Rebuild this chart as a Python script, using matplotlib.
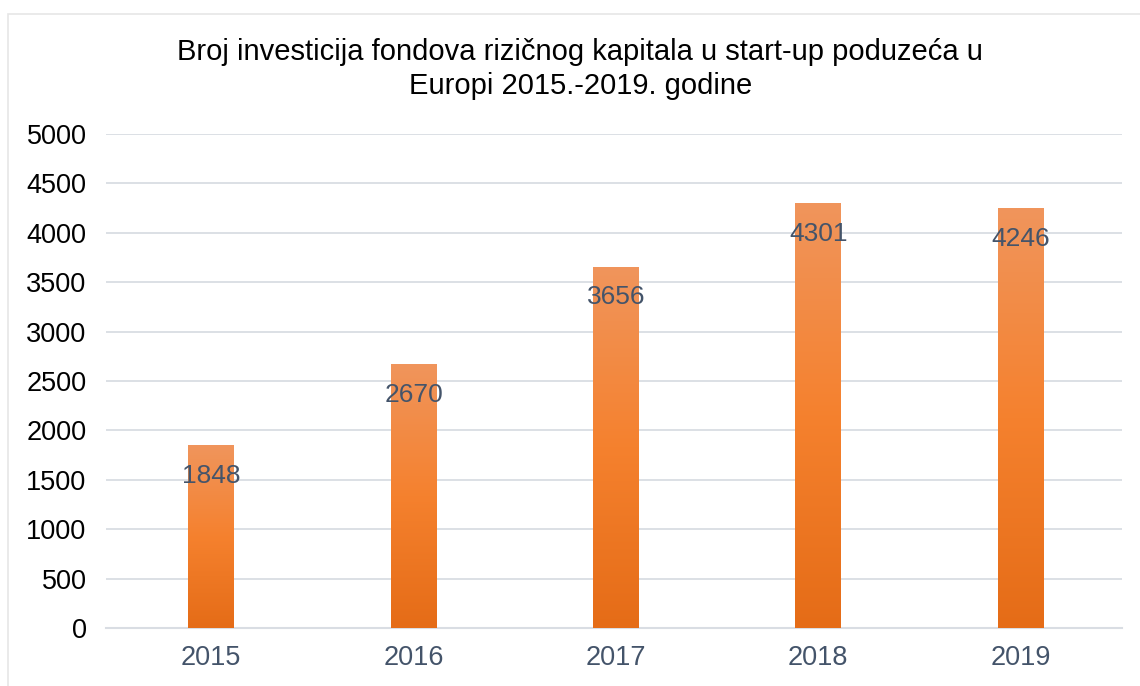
import numpy as np
import matplotlib.pyplot as plt
from matplotlib.colors import LinearSegmentedColormap
from matplotlib.patches import Rectangle

plt.rcParams['font.family'] = ['Liberation Sans', 'DejaVu Sans']

years = ["2015", "2016", "2017", "2018", "2019"]
investments = [1848, 2670, 3656, 4301, 4246]

fig = plt.figure(figsize=(11.4, 6.86), dpi=100)
ax = fig.add_axes([0.093, 0.0845, 0.891, 0.7202])

# faint outer border of the chart area
fig.patches.append(Rectangle((0.007, -0.01), 1.0, 0.99, transform=fig.transFigure,
                             fill=False, edgecolor="#E6E6E6", linewidth=1.2))

x = np.arange(len(years))
bars = ax.bar(x, investments, width=0.227, color="none", zorder=3)

# vertical orange gradient inside each bar
cmap = LinearSegmentedColormap.from_list("og", ["#E56C17", "#F5812E", "#F0955C"])
grad = np.linspace(0, 1, 256).reshape(-1, 1)
for b in bars:
    x0, y0 = b.get_x(), b.get_y()
    im = ax.imshow(grad, cmap=cmap, origin="lower", aspect="auto",
                   extent=[x0, x0 + b.get_width(), y0, y0 + b.get_height()], zorder=3)
    im.set_clip_path(b)

for xi, v in zip(x, investments):
    ax.annotate(str(v), (xi, v), xytext=(0, -22), textcoords="offset points",
                ha="center", va="center", fontsize=19, color="#44546A", zorder=5)

ax.set_xlim(-0.52, 4.5)
ax.set_ylim(0, 5000)
ax.set_yticks(range(0, 5001, 500))
ax.set_xticks(x)
ax.set_xticklabels(years)
ax.grid(axis="y", color="#D9DDE3", linewidth=1.3, zorder=0)
for s in ["top", "right", "left"]:
    ax.spines[s].set_visible(False)
ax.spines["bottom"].set_color("#D9DDE3")
ax.spines["bottom"].set_linewidth(1.5)
ax.tick_params(axis="both", length=0)
ax.tick_params(axis="y", labelsize=19.5, labelcolor="black", pad=14)
ax.tick_params(axis="x", labelsize=19.5, labelcolor="#44546A", pad=12)

fig.text(0.509, 0.899, "Broj investicija fondova rizičnog kapitala u start-up poduzeća u\nEuropi 2015.-2019. godine",
         ha="center", va="center", fontsize=21, color="black", linespacing=1.28)

fig.savefig("out.png", dpi=100)
